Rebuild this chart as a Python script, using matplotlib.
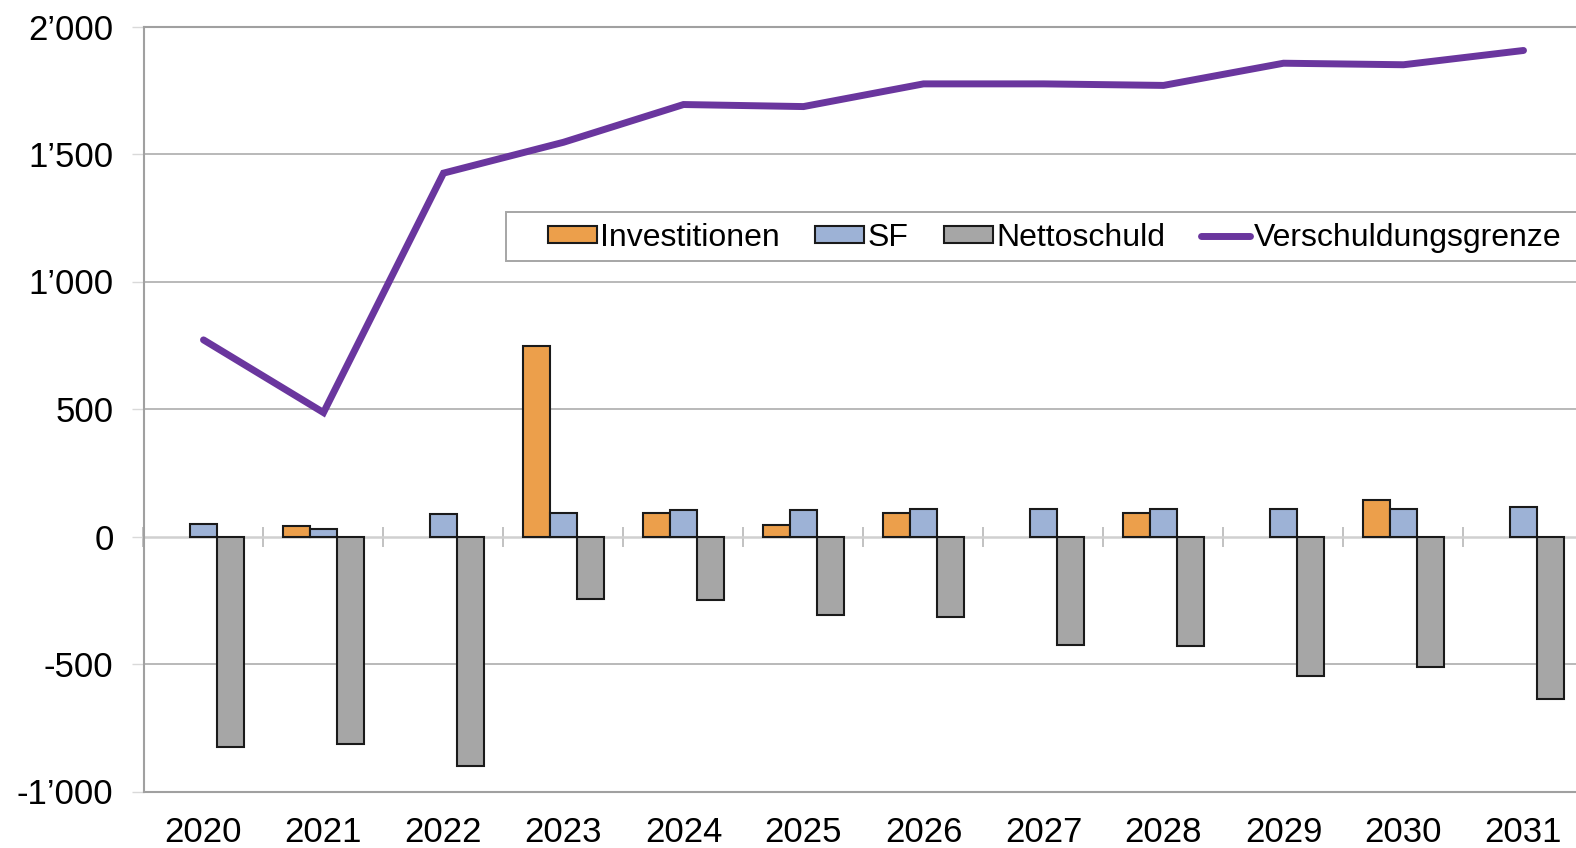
import numpy as np
import matplotlib

matplotlib.use("Agg")
import matplotlib.pyplot as plt
from matplotlib.patches import Rectangle
from matplotlib.ticker import FuncFormatter

years = ["2020", "2021", "2022", "2023", "2024", "2025",
         "2026", "2027", "2028", "2029", "2030", "2031"]
investitionen = [0, 43, 0, 749, 93, 44, 93, 0, 94, 0, 145, 0]
sf = [50, 29, 87, 93, 102, 102, 109, 109, 107, 107, 107, 116]
nettoschuld = [-826, -813, -899, -247, -248, -309, -315, -425, -431, -549, -512, -636]
grenze = [771, 486, 1425, 1546, 1694, 1686, 1775, 1775, 1769, 1856, 1850, 1906]

plt.rcParams["font.family"] = ["Liberation Sans", "DejaVu Sans"]

W, H = 1576, 848
fig = plt.figure(figsize=(W / 100, H / 100), dpi=100)
ax = fig.add_axes([143.5 / W, (H - 791.5) / H, 1440 / W, 765 / H])


def nz(vals):
    # empty cells in the source: no bar at all
    a = np.array(vals, dtype=float)
    a[a == 0] = np.nan
    return a


x = np.arange(len(years))
bw = 0.225
edge = dict(edgecolor="#1a1a1a", linewidth=1.5, zorder=2)
b1 = ax.bar(x - bw, nz(investitionen), bw, color="#ec9f4b", label="Investitionen", **edge)
b2 = ax.bar(x, nz(sf), bw, color="#9db2d6", label="SF", **edge)
b3 = ax.bar(x + bw, nz(nettoschuld), bw, color="#a6a6a6", label="Nettoschuld", **edge)
ln, = ax.plot(x, grenze, color="#6a369e", lw=5.0, solid_capstyle="round",
              solid_joinstyle="miter", label="Verschuldungsgrenze", zorder=4)

ymin, ymax = -1000, 2000
ax.set_ylim(ymin, ymax)
ax.set_xlim(-0.5, len(years) - 0.5)
ax.set_yticks(np.arange(-1000, 2001, 500))
ax.yaxis.set_major_formatter(FuncFormatter(lambda v, p: f"{int(v):,}".replace(",", "\u2019")))
ax.grid(axis="y", color="#a6a6a6", lw=1.1)
ax.set_axisbelow(True)
ax.tick_params(axis="y", length=8.6, color="#d9d9d9", width=1.0, pad=13, labelsize=25)

# year labels at the bottom
ax.set_xticks(x, years)
ax.tick_params(axis="x", length=0, pad=18, labelsize=25)

for side in ["left", "top", "bottom", "right"]:
    ax.spines[side].set_color("#a0a0a0")
    ax.spines[side].set_linewidth(1.5)

# category axis crossing at zero, with separator ticks
zero = ax.secondary_xaxis((0 - ymin) / (ymax - ymin))
zero.set_xticks(np.arange(-0.5, len(years)), labels=[])
zero.tick_params(direction="inout", length=14.4, color="#b8b8b8", width=1.2)
zero.spines["bottom"].set_color("#d0d0d0")
zero.spines["bottom"].set_linewidth(1.8)
zero.set_zorder(0.5)

# legend frame (runs past the right edge like the original)
fig.add_artist(Rectangle((506 / W, (H - 261) / H), (1610 - 506) / W, 48.7 / H,
                         transform=fig.transFigure, facecolor="white",
                         edgecolor="#a6a6a6", lw=1.4, zorder=3))
leg = fig.legend([b1, b2, b3, ln],
                 ["Investitionen", "SF", "Nettoschuld", "Verschuldungsgrenze"],
                 loc="center left", bbox_to_anchor=(547.7 / W, (H - 238) / H),
                 ncol=4, frameon=False, fontsize=23, handlelength=1.53,
                 handleheight=0.46, handletextpad=0.12, columnspacing=1.1,
                 borderpad=0, borderaxespad=0)
leg.set_zorder(5)

fig.savefig("out.png", dpi=100)
